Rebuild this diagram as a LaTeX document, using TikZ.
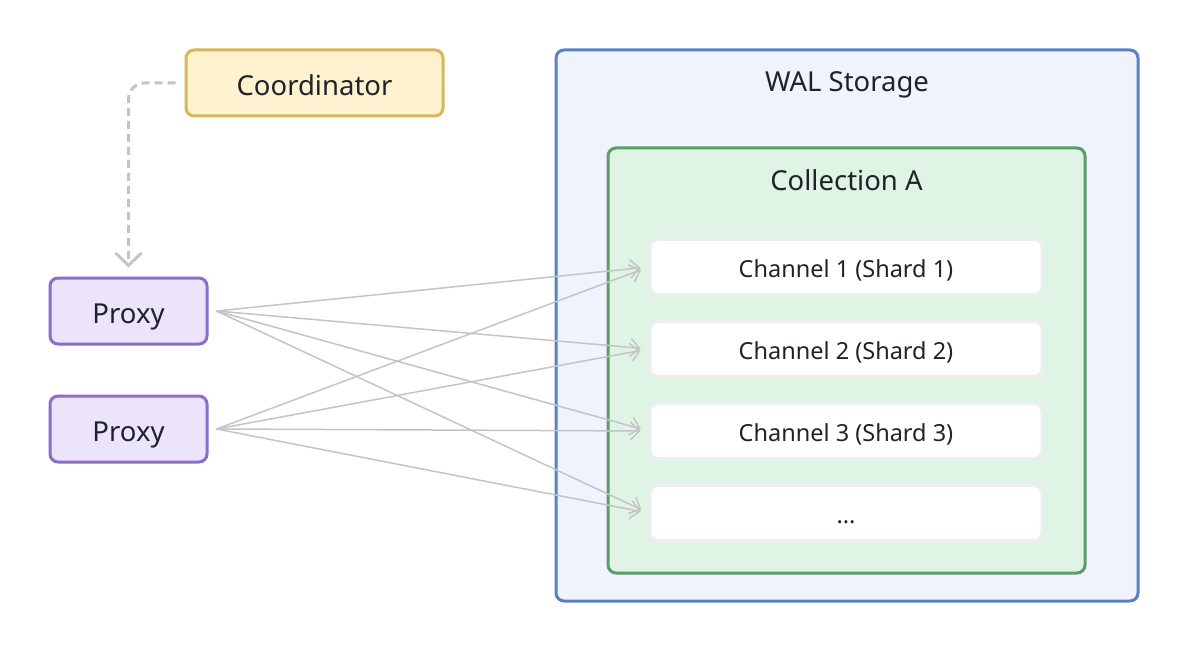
\documentclass[tikz,border=0pt]{standalone}
\usepackage{fontspec}
\setmainfont{Noto Sans}
\usetikzlibrary{arrows.meta}

\definecolor{coordFill}{HTML}{FDF1D0}
\definecolor{coordLine}{HTML}{D8B65C}
\definecolor{proxyFill}{HTML}{EBE4FB}
\definecolor{proxyLine}{HTML}{8B6CCF}
\definecolor{walFill}{HTML}{EFF3FC}
\definecolor{walLine}{HTML}{5A7FC7}
\definecolor{collFill}{HTML}{E0F4E6}
\definecolor{collLine}{HTML}{5C9C68}
\definecolor{chanLine}{HTML}{EEEEEE}
\definecolor{linkGray}{HTML}{C2C4C6}
\definecolor{textDark}{HTML}{1F2329}

\tikzset{
  label/.style={text=textDark, font=\fontsize{27.5}{32}\selectfont, text height=25pt, text depth=0pt},
  box/.style={rectangle, rounded corners=8pt, line width=3pt, label},
  coordbox/.style={box, draw=coordLine, fill=coordFill, minimum width=257pt, minimum height=66pt},
  proxybox/.style={box, draw=proxyLine, fill=proxyFill, minimum width=157pt, minimum height=66pt},
  walbox/.style={box, draw=walLine, fill=walFill, minimum width=582pt, minimum height=551pt},
  collbox/.style={box, draw=collLine, fill=collFill, minimum width=477pt, minimum height=425pt},
  chanbox/.style={box, draw=chanLine, fill=white, minimum width=392pt, minimum height=55pt,
    font=\fontsize{23.5}{28}\selectfont, text height=20.5pt, text depth=0pt},
  link/.style={draw=linkGray, line width=1.5pt, -{Straight Barb[length=9pt,width=18pt]}},
  ctrl/.style={draw=linkGray, line width=3pt, dash pattern=on 8pt off 5pt, rounded corners=16pt,
    -{Straight Barb[length=12pt,width=25pt,line cap=round]}},
}

\begin{document}
\begin{tikzpicture}[x=1pt, y=-1pt]
  \useasboundingbox (0,0) rectangle (1190,652);

  % armazenamento
  \node[walbox] (wal) at (847,325.5) {};
  \node[label] (waltitle) at (847,79.5) {WAL Storage};
  \node[collbox] (coll) at (846.5,360.5) {};
  \node[label] (colltitle) at (846.5,178.5) {Collection A};

  \node[chanbox] (ch1) at (846,267) {Channel 1 (Shard 1)};
  \node[chanbox] (ch2) at (846,349) {Channel 2 (Shard 2)};
  \node[chanbox] (ch3) at (846,431) {Channel 3 (Shard 3)};
  \node[chanbox] (ch4) at (846,513) {...};

  % lado esquerdo
  \node[coordbox] (coord) at (314.5,83) {Coordinator};
  \node[proxybox] (proxy1) at (128.5,311) {Proxy};
  \node[proxybox] (proxy2) at (128.5,429) {Proxy};

  \draw[ctrl, shorten <=9pt, shorten >=9pt] (coord.west) -| (proxy1.north);

  \foreach \p in {1,2} {
    \coordinate (p\p o) at ([xshift=8pt]proxy\p.east);
    \foreach \c in {1,2,3,4} {
      \draw[link, shorten >=8pt] (p\p o) -- (ch\c.west);
    }
  }
\end{tikzpicture}
\end{document}
